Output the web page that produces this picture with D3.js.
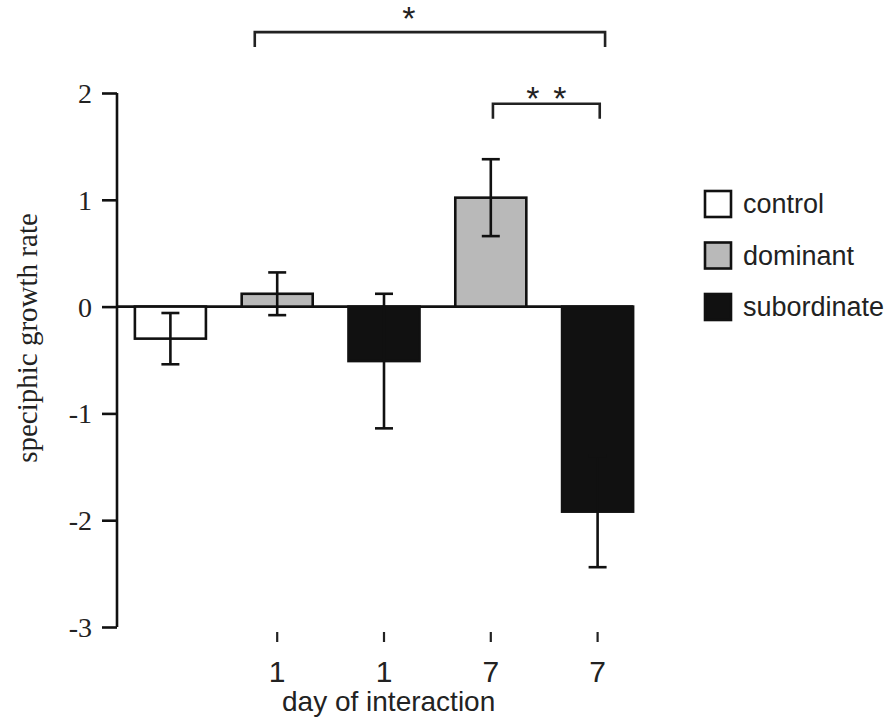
<!DOCTYPE html>
<html><head><meta charset="utf-8">
<script src="https://cdn.jsdelivr.net/npm/d3@7"></script>
<style>html,body{margin:0;padding:0;background:#fff;}</style>
</head><body>
<svg id="chart" width="892" height="723"></svg>
<script>
// ---- data ----
const groups = ["control", "dominant", "subordinate", "dominant", "subordinate"];
const dayLabels = ["", "1", "1", "7", "7"];
const means = [-0.30, 0.12, -0.51, 1.02, -1.92];
const errors = [0.24, 0.20, 0.63, 0.36, 0.52];
const yTicks = [-3, -2, -1, 0, 1, 2];
const legendItems = ["control", "dominant", "subordinate"];
const brackets = [
  {from: 0.79, to: 4.07, level: 2.57, stars: 1, starPos: 0.44, starLevel: 2.77},
  {from: 3.02, to: 4.02, level: 1.90, stars: 2, starPos: 0.5, starLevel: 2.03}
];
const yTitle = "speciphic growth rate";
const xTitle = "day of interaction";

// ---- styles ----
const fills = {control: "#ffffff", dominant: "#b9b9b9", subordinate: "#111111"};
const svg = d3.select("#chart");
const axisX = 117;

const x = d3.scaleBand().domain(d3.range(groups.length)).range([axisX, 651])
  .paddingInner(0.335).paddingOuter(0.1675);
const xc = i => x(i) + x.bandwidth() / 2;
const xi = v => xc(0) + v * x.step(); // continuous position in category units
const y = d3.scaleLinear().domain([-3, 2]).range([627, 93]);

// y axis
const yAxis = d3.axisLeft(y).tickValues(yTicks).tickSize(15).tickPadding(10)
  .tickFormat(d => d3.format("d")(d).replace("−", "-"));
const gy = svg.append("g").attr("transform", `translate(${axisX},0)`).call(yAxis)
  .attr("font-size", null).attr("font-family", null);
gy.select(".domain").attr("d", `M0,${y(-3)}V${y(2)}`).attr("stroke", "#111").attr("stroke-width", 2.6);
gy.selectAll(".tick line").attr("stroke", "#111").attr("stroke-width", 2.6);
gy.selectAll(".tick text")
  .style("font-family", "'Liberation Serif', 'Times New Roman', serif")
  .style("font-size", "28px").attr("fill", "#222").attr("dy", "0.34em");

// y title
svg.append("text").attr("transform", `translate(37,${338}) rotate(-90)`)
  .attr("text-anchor", "middle")
  .style("font-family", "'Liberation Serif', 'Times New Roman', serif")
  .style("font-size", "29px").attr("fill", "#222").text(yTitle);

// zero line
svg.append("line").attr("x1", axisX).attr("x2", x(groups.length - 1) + x.bandwidth())
  .attr("y1", y(0)).attr("y2", y(0)).attr("stroke", "#111").attr("stroke-width", 2.6);

// bars
svg.append("g").selectAll("rect").data(means).join("rect")
  .attr("x", (d, i) => x(i)).attr("width", x.bandwidth())
  .attr("y", d => y(Math.max(0, d))).attr("height", d => Math.abs(y(d) - y(0)))
  .attr("fill", (d, i) => fills[groups[i]])
  .attr("stroke", "#111").attr("stroke-width", 2.6);

// error bars
const eb = svg.append("g").attr("stroke", "#111").attr("stroke-width", 2.6);
means.forEach((m, i) => {
  const cx = xc(i);
  eb.append("line").attr("x1", cx).attr("x2", cx).attr("y1", y(m - errors[i])).attr("y2", y(m + errors[i]));
  [m - errors[i], m + errors[i]].forEach(v => {
    eb.append("line").attr("x1", cx - 9).attr("x2", cx + 9).attr("y1", y(v)).attr("y2", y(v));
  });
});

// x ticks and labels
const xt = svg.append("g");
dayLabels.forEach((lab, i) => {
  if (!lab) return;
  xt.append("line").attr("x1", xc(i)).attr("x2", xc(i)).attr("y1", 632).attr("y2", 642)
    .attr("stroke", "#222").attr("stroke-width", 2.2);
  xt.append("text").attr("x", xc(i)).attr("y", 682).attr("text-anchor", "middle")
    .style("font-family", "'Liberation Sans', Arial, sans-serif").style("font-size", "30px")
    .attr("fill", "#222").text(lab);
});
svg.append("text").attr("x", 282).attr("y", 711)
  .style("font-family", "'Liberation Sans', Arial, sans-serif").style("font-size", "28px")
  .attr("fill", "#222").text(xTitle);

// significance brackets
const bg = svg.append("g");
const starFs = 34;
brackets.forEach(b => {
  const x1 = xi(b.from), x2 = xi(b.to), yy = y(b.level);
  bg.append("path").attr("d", `M${x1},${yy + 15}V${yy}H${x2}V${yy + 15}`)
    .attr("fill", "none").attr("stroke", "#222").attr("stroke-width", 2.6);
  const sx = x1 + (x2 - x1) * b.starPos;
  const offs = b.stars === 1 ? [0] : [-13.5, 13.5];
  offs.forEach(o => {
    bg.append("text").attr("x", sx + o).attr("y", y(b.starLevel) + starFs * 0.58)
      .attr("text-anchor", "middle")
      .style("font-family", "'Liberation Sans', Arial, sans-serif")
      .style("font-size", starFs + "px").attr("fill", "#222").text("*");
  });
});

// legend
const lg = svg.append("g");
legendItems.forEach((name, i) => {
  const cy = 204 + i * 51.5;
  lg.append("rect").attr("x", 705).attr("y", cy - 13).attr("width", 26).attr("height", 26)
    .attr("fill", fills[name]).attr("stroke", "#111").attr("stroke-width", 2.6);
  lg.append("text").attr("x", 743).attr("y", cy + 9)
    .style("font-family", "'Liberation Sans', Arial, sans-serif").style("font-size", "27px")
    .attr("fill", "#222").text(name);
});
</script>
</body></html>
